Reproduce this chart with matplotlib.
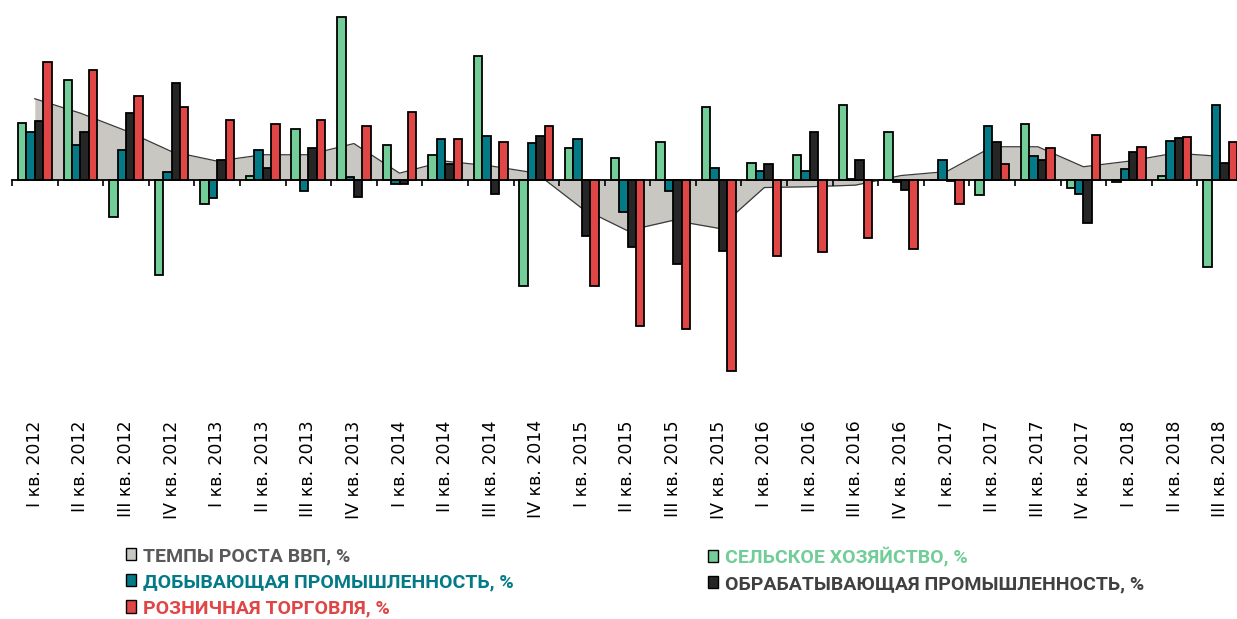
import numpy as np
import matplotlib.pyplot as plt
from matplotlib.patches import Patch

# quarters I кв. 2012 ... III кв. 2018
quarters = ["I кв. 2012", "II кв. 2012", "III кв. 2012", "IV кв. 2012",
            "I кв. 2013", "II кв. 2013", "III кв. 2013", "IV кв. 2013",
            "I кв. 2014", "II кв. 2014", "III кв. 2014", "IV кв. 2014",
            "I кв. 2015", "II кв. 2015", "III кв. 2015", "IV кв. 2015",
            "I кв. 2016", "II кв. 2016", "III кв. 2016", "IV кв. 2016",
            "I кв. 2017", "II кв. 2017", "III кв. 2017", "IV кв. 2017",
            "I кв. 2018", "II кв. 2018", "III кв. 2018"]

gdp = [5.1, 4.2, 3.1, 1.8, 1.2, 1.6, 1.6, 2.3, 0.45, 1.2, 0.9, 0.45,
       -1.75, -3.15, -2.5, -3.0, -0.45, -0.4, -0.3, 0.3, 0.55, 2.1, 2.1,
       0.85, 1.2, 1.7, 1.5]
agri = [3.6, 6.3, -2.3, -5.9, -1.5, 0.3, 3.2, 10.2, 2.2, 1.6, 7.8, -6.6,
        2.0, 1.4, 2.4, 4.6, 1.1, 1.6, 4.7, 3.0, 0.0, -0.9, 3.5, -0.5,
        -0.1, 0.3, -5.4]
mining = [3.0, 2.2, 1.9, 0.5, -1.1, 1.9, -0.65, 0.2, -0.2, 2.6, 2.8, 2.35,
          2.6, -2.0, -0.65, 0.8, 0.6, 0.6, 0.1, -0.1, 1.25, 3.4, 1.5, -0.85,
          0.7, 2.45, 4.7]
manuf = [3.7, 3.0, 4.2, 6.1, 1.25, 0.75, 2.0, -1.05, -0.2, 1.0, -0.85, 2.75,
         -3.5, -4.15, -5.2, -4.4, 1.0, 3.0, 1.25, -0.6, -0.05, 2.4, 1.25,
         -2.65, 1.8, 2.65, 1.1]
retail = [7.4, 6.9, 5.3, 4.6, 3.8, 3.55, 3.8, 3.4, 4.3, 2.6, 2.4, 3.4,
          -6.6, -9.1, -9.3, -11.9, -4.7, -4.5, -3.6, -4.3, -1.5, 1.0, 2.0,
          2.85, 2.1, 2.7, 2.4]

names = ["ТЕМПЫ РОСТА ВВП, %", "СЕЛЬСКОЕ ХОЗЯЙСТВО, %",
         "ДОБЫВАЮЩАЯ ПРОМЫШЛЕННОСТЬ, %", "ОБРАБАТЫВАЮЩАЯ ПРОМЫШЛЕННОСТЬ, %",
         "РОЗНИЧНАЯ ТОРГОВЛЯ, %"]

c_gdp = "#c9c7c1"
c_agri = "#72cd98"
c_mining = "#047a86"
c_manuf = "#262626"
c_retail = "#e04646"

W, H = 1237, 619
fig = plt.figure(figsize=(W / 100, H / 100), dpi=100)
ax = fig.add_axes([12 / W, 1 - 412 / H, 1231 / W, 407 / H])

x = np.arange(len(quarters))
w = 0.185

# gdp area in the back
ax.fill_between(x, gdp, 0, color=c_gdp, lw=0, zorder=1)
ax.plot(x, gdp, color="#3a3a3a", lw=0.9, zorder=1.5)

bars = [agri, mining, manuf, retail]
cols = [c_agri, c_mining, c_manuf, c_retail]
for i in range(4):
    ax.bar(x + (i - 1.5) * w, bars[i], w, color=cols[i],
           edgecolor="black", lw=1.3, zorder=2)

ax.set_xlim(-0.5, len(quarters) - 0.5)
ax.set_ylim(-14.48, 10.96)

for s in ["top", "left", "right"]:
    ax.spines[s].set_visible(False)
ax.spines["bottom"].set_position(("data", 0))
ax.spines["bottom"].set_linewidth(1.3)
ax.spines["bottom"].set_zorder(3)
ax.set_yticks([])
ax.set_xticks(np.arange(len(quarters) + 1) - 0.5)
ax.tick_params(axis="x", length=4.5, width=1.2, direction="out",
               labelbottom=False)

# category labels sit at the bottom of the plot area
sec = ax.secondary_xaxis("bottom")
sec.set_xticks(x, quarters, rotation=90, fontsize=12.5, va="top")
sec.tick_params(length=0, pad=6)
sec.spines["bottom"].set_visible(False)

font = ["Roboto", "DejaVu Sans"]
h1 = [Patch(facecolor=c_gdp, edgecolor="black", lw=1),
      Patch(facecolor=c_mining, edgecolor="black", lw=1),
      Patch(facecolor=c_retail, edgecolor="black", lw=1)]
h2 = [Patch(facecolor=c_agri, edgecolor="black", lw=1),
      Patch(facecolor=c_manuf, edgecolor="black", lw=1)]
opts = dict(loc="upper left", frameon=False, handlelength=0.52,
            handleheight=0.58, handletextpad=0.35, borderpad=0,
            borderaxespad=0, labelspacing=0.42,
            prop={"family": font, "weight": "bold", "size": 14})
leg1 = fig.legend(h1, [names[0], names[2], names[4]],
                  bbox_to_anchor=(126 / W, 1 - 547 / H), **opts)
leg2 = fig.legend(h2, [names[1], names[3]],
                  bbox_to_anchor=(708 / W, 1 - 547 / H), **opts)
for t, c in zip(leg1.get_texts(), ["#595959", c_mining, c_retail]):
    t.set_color(c)
for t, c in zip(leg2.get_texts(), [c_agri, "#404040"]):
    t.set_color(c)

fig.savefig("out.png", dpi=100)
